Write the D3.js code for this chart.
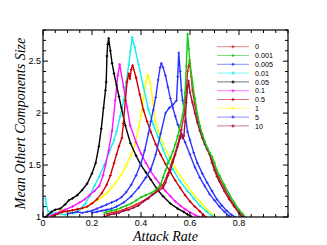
<!DOCTYPE html>
<html>
  <head>
    <meta charset="utf-8" />
    <script src="https://d3js.org/d3.v7.min.js"></script>
    <style>
      body {
        margin: 0px;
        background: #fff;
      }
      .tick-label {
        font-family: "Liberation Sans", Arial, sans-serif;
        font-size: 9px;
        fill: #000;
      }
      .axis-label {
        font-family: "Liberation Serif", "Times New Roman", serif;
        font-style: italic;
        font-size: 14px;
        fill: #000;
      }
      .legend text {
        font-family: "Liberation Sans", Arial, sans-serif;
        font-size: 7.2px;
        fill: #000;
      }
    </style>
  </head>
  <body>
    <svg width="327" height="245"></svg>
    <script>
      // series names, in legend order
      const names = ["0", "0.001", "0.005", "0.01", "0.05", "0.1", "0.5", "1", "5", "10"];
      const colors = ["#dd2222", "#11cc11", "#2233ff", "#11eeee", "#000000",
                      "#ff11ff", "#cc0000", "#ffff00", "#3333ff", "#a0103c"];

      // [attack rate, mean other components size]
      const s0 = [[0.26,1.03],[0.30,1.05],[0.34,1.08],[0.38,1.12],[0.42,1.17],[0.46,1.24],[0.49,1.31],[0.51,1.42],
        [0.53,1.55],[0.55,1.70],[0.565,1.84],[0.575,1.98],[0.585,2.20],[0.59,2.40],[0.595,2.46],[0.598,2.51],
        [0.60,2.45],[0.605,2.35],[0.61,2.22],[0.62,2.08],[0.63,1.96],[0.64,1.87],[0.65,1.79],[0.66,1.72],
        [0.67,1.66],[0.68,1.61],[0.69,1.55],[0.70,1.48],[0.71,1.42],[0.72,1.37],[0.74,1.28],[0.76,1.19],
        [0.78,1.12],[0.80,1.05],[0.815,1.01],[0.82,1.0]];
      const s0001 = [[0.25,1.04],[0.26,1.05],[0.28,1.06],[0.30,1.07],[0.32,1.09],[0.34,1.11],[0.36,1.13],[0.38,1.16],
        [0.40,1.19],[0.42,1.21],[0.44,1.23],[0.46,1.26],[0.48,1.31],[0.49,1.38],[0.50,1.45],[0.51,1.52],
        [0.52,1.57],[0.53,1.63],[0.54,1.70],[0.55,1.78],[0.56,1.88],[0.57,1.98],[0.575,2.08],[0.58,2.20],
        [0.585,2.45],[0.59,2.76],[0.595,2.62],[0.60,2.48],[0.61,2.30],[0.62,2.14],[0.63,1.99],[0.64,1.88],
        [0.65,1.80],[0.66,1.73],[0.67,1.67],[0.68,1.62],[0.69,1.58],[0.70,1.52],[0.71,1.45],[0.72,1.40],
        [0.74,1.31],[0.76,1.22],[0.78,1.14],[0.80,1.07],[0.815,1.03],[0.825,1.0]];
      const s0005 = [[0.20,1.04],[0.22,1.05],[0.24,1.06],[0.26,1.07],[0.28,1.08],[0.30,1.10],[0.33,1.14],[0.36,1.20],
        [0.39,1.28],[0.42,1.38],[0.44,1.46],[0.46,1.60],[0.48,1.80],[0.50,2.00],[0.515,2.05],[0.53,2.08],
        [0.545,2.12],[0.55,2.35],[0.554,2.58],[0.56,2.40],[0.565,2.22],
        [0.57,2.12],[0.58,2.00],[0.59,1.82],[0.60,1.74],[0.615,1.62],[0.63,1.52],[0.65,1.42],[0.67,1.33],
        [0.69,1.25],[0.71,1.17],[0.73,1.11],[0.75,1.06],[0.77,1.02],[0.785,1.0]];
      const s001 = [[0.01,1.18],[0.015,1.10],[0.022,1.05],[0.03,1.03],[0.05,1.04],[0.07,1.03],[0.09,1.02],[0.11,1.04],
        [0.13,1.04],[0.15,1.07],[0.17,1.12],[0.19,1.20],[0.21,1.30],[0.23,1.39],[0.25,1.50],[0.27,1.62],
        [0.29,1.74],[0.30,1.82],[0.315,1.97],[0.33,2.13],[0.34,2.30],[0.35,2.47],[0.357,2.60],[0.364,2.73],
        [0.375,2.63],[0.39,2.47],[0.41,2.25],[0.43,2.04],[0.45,1.89],[0.47,1.77],[0.49,1.65],[0.51,1.54],
        [0.53,1.46],[0.56,1.34],[0.59,1.25],[0.615,1.18],[0.64,1.11],[0.669,1.05],[0.69,1.01],[0.70,1.0]];
      const s005 = [[0.01,1.0],[0.02,1.02],[0.035,1.05],[0.05,1.07],[0.07,1.08],[0.09,1.12],[0.105,1.16],[0.12,1.18],
        [0.14,1.21],[0.16,1.26],[0.18,1.32],[0.20,1.42],[0.215,1.52],[0.228,1.68],[0.238,1.85],[0.247,2.05],
        [0.255,2.22],[0.258,2.30],[0.261,2.55],[0.264,2.66],[0.268,2.72],[0.275,2.60],[0.282,2.48],[0.29,2.38],
        [0.30,2.27],[0.31,2.16],[0.32,2.05],[0.336,1.88],[0.357,1.71],[0.38,1.59],[0.40,1.50],[0.42,1.43],
        [0.44,1.36],[0.465,1.27],[0.49,1.20],[0.52,1.13],[0.55,1.08],[0.574,1.05],[0.59,1.025],[0.605,1.005]];
      const s01 = [[0.03,1.01],[0.05,1.03],[0.07,1.05],[0.09,1.07],[0.12,1.10],[0.15,1.14],[0.17,1.17],[0.19,1.21],
        [0.21,1.25],[0.23,1.30],[0.245,1.40],[0.255,1.50],[0.268,1.64],[0.282,1.83],[0.295,2.12],[0.305,2.36],
        [0.313,2.47],[0.329,2.25],[0.343,2.06],[0.356,1.88],[0.38,1.72],[0.40,1.61],[0.42,1.52],[0.44,1.44],
        [0.46,1.37],[0.48,1.31],[0.50,1.25],[0.52,1.20],[0.54,1.15],[0.56,1.11],[0.58,1.075],[0.60,1.045],
        [0.62,1.02],[0.64,1.0]];
      const s05 = [[0.04,1.01],[0.06,1.03],[0.08,1.05],[0.10,1.055],[0.12,1.065],[0.14,1.075],[0.16,1.085],[0.18,1.10],
        [0.20,1.13],[0.22,1.17],[0.24,1.23],[0.26,1.31],[0.275,1.40],[0.29,1.52],[0.30,1.60],[0.31,1.68],
        [0.322,1.76],[0.328,1.90],[0.336,2.12],[0.343,2.30],[0.35,2.38],[0.355,2.33],[0.36,2.42],[0.366,2.46],
        [0.38,2.34],[0.395,2.18],[0.41,2.03],[0.425,1.92],[0.44,1.82],[0.46,1.70],[0.48,1.60],[0.50,1.51],
        [0.52,1.43],[0.54,1.35],[0.56,1.28],[0.58,1.21],[0.60,1.15],[0.62,1.10],[0.64,1.055],[0.655,1.02],
        [0.665,1.0]];
      const s1 = [[0.05,1.02],[0.065,1.05],[0.08,1.07],[0.095,1.05],[0.11,1.04],[0.13,1.05],[0.15,1.07],[0.18,1.10],
        [0.20,1.13],[0.22,1.16],[0.24,1.19],[0.26,1.23],[0.28,1.28],[0.30,1.34],[0.32,1.41],[0.34,1.50],
        [0.36,1.60],[0.375,1.70],[0.39,1.85],[0.40,1.98],[0.41,2.14],[0.42,2.30],[0.427,2.37],[0.438,2.29],
        [0.448,2.12],[0.458,1.92],[0.47,1.83],[0.49,1.70],[0.52,1.56],[0.55,1.43],[0.588,1.305],[0.61,1.23],
        [0.642,1.144],[0.67,1.07],[0.696,1.016],[0.705,1.0]];
      const s5 = [[0.10,1.03],[0.12,1.04],[0.14,1.05],[0.16,1.04],[0.18,1.05],[0.20,1.06],[0.22,1.08],[0.24,1.10],
        [0.26,1.12],[0.28,1.14],[0.30,1.16],[0.32,1.19],[0.34,1.24],[0.36,1.31],[0.38,1.40],[0.40,1.52],
        [0.415,1.64],[0.43,1.80],[0.44,1.92],[0.45,2.03],[0.46,2.15],[0.47,2.32],[0.478,2.44],[0.483,2.48],
        [0.49,2.44],[0.50,2.36],[0.51,2.25],[0.52,2.14],[0.53,2.05],[0.54,1.97],[0.55,1.89],[0.56,1.83],
        [0.58,1.72],[0.60,1.60],[0.62,1.48],[0.64,1.38],[0.66,1.30],[0.68,1.22],[0.70,1.16],[0.72,1.10],
        [0.74,1.05],[0.76,1.01],[0.765,1.0]];
      const s10 = [[0.25,1.0],[0.27,1.02],[0.29,1.03],[0.31,1.04],[0.33,1.06],[0.35,1.07],[0.37,1.09],[0.39,1.11],
        [0.41,1.15],[0.43,1.18],[0.45,1.22],[0.47,1.25],[0.49,1.28],[0.50,1.33],[0.51,1.40],[0.52,1.45],
        [0.53,1.53],[0.54,1.60],[0.55,1.68],[0.56,1.76],[0.565,1.80],[0.57,1.76],[0.575,1.78],[0.58,1.92],
        [0.585,2.10],[0.59,2.25],[0.594,2.31],[0.60,2.20],[0.61,2.10],[0.62,2.00],[0.63,1.91],[0.64,1.83],
        [0.65,1.76],[0.66,1.70],[0.67,1.65],[0.68,1.60],[0.69,1.52],[0.70,1.45],[0.71,1.39],[0.72,1.34],
        [0.74,1.25],[0.76,1.17],[0.78,1.10],[0.80,1.04],[0.81,1.01],[0.815,1.0]];

      const seriesData = [s0, s0001, s0005, s001, s005, s01, s05, s1, s5, s10];
      // drawing order: later ones on top
      const drawOrder = [7, 3, 5, 4, 6, 8, 2, 0, 9, 1];

      const xTicks = [0, 0.2, 0.4, 0.6, 0.8];
      const xTickLabels = ["0", "0.2", "0.4", "0.6", "0.8"];
      const yTicks = [1, 1.5, 2, 2.5];
      const yTickLabels = ["1", "1.5", "2", "2.5"];

      const svg = d3.select("svg");
      const pLeft = 43, pRight = 288, pTop = 30, pBottom = 217;

      const xScale = d3.scaleLinear().domain([0, 1]).range([pLeft, pRight]);
      const yScale = d3.scaleLinear().domain([1, 2.8]).range([pBottom, pTop]);

      const plot = svg.append("g");
      plot.append("clipPath").attr("id", "clip")
        .append("rect").attr("x", pLeft).attr("y", pTop)
        .attr("width", pRight - pLeft).attr("height", pBottom - pTop);

      const line = d3.line().x((d) => xScale(d[0])).y((d) => yScale(d[1]));
      const curves = plot.append("g").attr("clip-path", "url(#clip)");
      drawOrder.forEach((i) => {
        curves.append("path")
          .datum(seriesData[i])
          .attr("fill", "none")
          .attr("stroke", colors[i])
          .attr("stroke-width", 1.4)
          .attr("stroke-linejoin", "round")
          .attr("d", line);
        curves.selectAll(null)
          .data(seriesData[i])
          .enter()
          .append("path")
          .attr("transform", (d) => `translate(${xScale(d[0])},${yScale(d[1])})`)
          .attr("d", d3.symbol(d3.symbolCross, 4)())
          .attr("fill", colors[i]);
      });

      // inward ticks on all four sides
      const ticks = svg.append("g").attr("stroke", "#000").attr("stroke-width", 1);
      const xMinor = d3.range(0, 1.0001, 0.05);
      const yMinor = d3.range(1, 2.8001, 0.1);
      xMinor.forEach((v) => {
        const major = xTicks.some((t) => Math.abs(t - v) < 1e-6);
        const len = major ? 5 : 3;
        const x = xScale(v);
        ticks.append("line").attr("x1", x).attr("x2", x).attr("y1", pBottom).attr("y2", pBottom - len);
        ticks.append("line").attr("x1", x).attr("x2", x).attr("y1", pTop).attr("y2", pTop + len);
      });
      yMinor.forEach((v) => {
        const major = yTicks.some((t) => Math.abs(t - v) < 1e-6);
        const len = major ? 5 : 3;
        const y = yScale(v);
        ticks.append("line").attr("x1", pLeft).attr("x2", pLeft + len).attr("y1", y).attr("y2", y);
        ticks.append("line").attr("x1", pRight).attr("x2", pRight - len).attr("y1", y).attr("y2", y);
      });

      svg.append("rect")
        .attr("x", pLeft).attr("y", pTop)
        .attr("width", pRight - pLeft).attr("height", pBottom - pTop)
        .attr("fill", "none").attr("stroke", "#000").attr("stroke-width", 1.2);

      svg.selectAll(".xt")
        .data(xTicks)
        .enter()
        .append("text")
        .attr("class", "tick-label")
        .attr("x", (d) => xScale(d))
        .attr("y", pBottom + 8.5)
        .attr("text-anchor", "middle")
        .text((d, i) => xTickLabels[i]);

      svg.selectAll(".yt")
        .data(yTicks)
        .enter()
        .append("text")
        .attr("class", "tick-label")
        .attr("x", pLeft - 2)
        .attr("y", (d) => yScale(d) + 3.2)
        .attr("text-anchor", "end")
        .text((d, i) => yTickLabels[i]);

      svg.append("text")
        .attr("class", "axis-label")
        .attr("x", (pLeft + pRight) / 2)
        .attr("y", 240.5)
        .attr("text-anchor", "middle")
        .text("Attack Rate");

      svg.append("text")
        .attr("class", "axis-label")
        .attr("transform", `translate(25, ${(pTop + pBottom) / 2}) rotate(-90)`)
        .attr("text-anchor", "middle")
        .text("Mean Othert Components Size");

      // legend
      const legend = svg.append("g").attr("class", "legend");
      names.forEach((n, i) => {
        const y = 46.7 + i * 8.8;
        legend.append("line")
          .attr("x1", 217).attr("x2", 249).attr("y1", y).attr("y2", y)
          .attr("stroke", colors[i]).attr("stroke-width", 0.9).attr("opacity", 0.6);
        legend.append("path")
          .attr("transform", `translate(233,${y})`)
          .attr("d", d3.symbol(d3.symbolCross, 5)())
          .attr("fill", colors[i]);
        legend.append("text")
          .attr("x", 255).attr("y", y + 2.6)
          .text(n);
      });
    </script>
  </body>
</html>
